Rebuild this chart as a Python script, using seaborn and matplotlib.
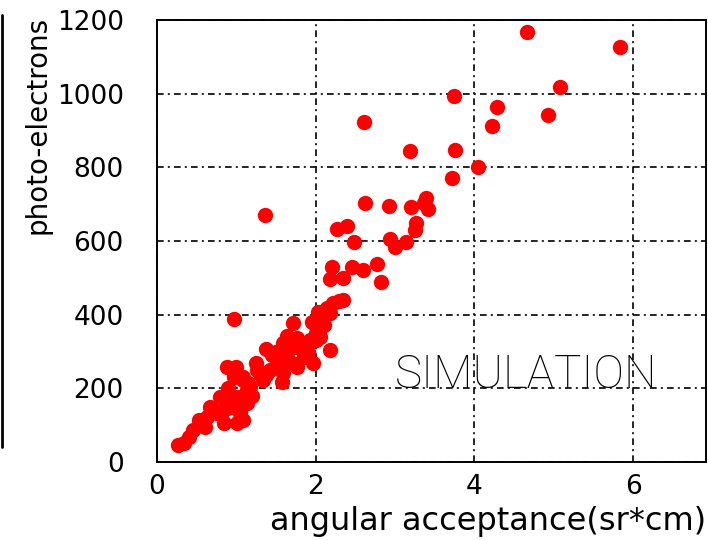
import matplotlib
matplotlib.use("Agg")
import matplotlib.pyplot as plt
from matplotlib.lines import Line2D
from matplotlib.ticker import MultipleLocator
import seaborn as sns
import pandas as pd

# angular acceptance (sr*cm) vs. number of photo-electrons
acceptance = [
    4.66, 5.83, 5.08, 3.74, 4.29, 4.93, 4.22, 2.61, 3.19, 3.76, 4.04, 3.72, 1.36,
    3.39, 3.42, 3.36, 3.20, 2.93, 2.62, 3.27, 3.25, 2.27, 2.40, 2.48, 2.94, 3.00,
    3.14, 2.20, 2.46, 2.60, 2.77, 2.18, 2.35, 2.82, 2.35, 2.30, 2.22, 2.14, 2.03,
    2.18, 2.10,
    0.97, 1.72, 2.10, 2.06, 2.18, 1.93, 1.76, 1.59, 1.38, 1.64, 1.85, 1.97, 1.51,
    1.43, 1.26, 1.59, 1.76, 1.09, 1.34, 1.00, 0.88, 0.97, 1.09, 1.13, 1.01, 0.80,
    0.67, 0.92, 1.05, 1.13, 1.01, 1.09, 0.84, 0.53, 0.63, 0.46, 0.40, 0.27, 0.34,
    0.76, 0.84, 1.05, 1.64, 1.57, 1.17, 1.76, 2.01, 1.90, 1.70, 1.45, 1.20, 0.90,
    0.60, 1.30, 1.55, 1.80, 2.00, 1.50, 1.95, 2.05, 1.15, 0.70, 0.95, 1.25, 1.37,
]
photo_electrons = [
    1167, 1126, 1019, 994, 965, 942, 913, 922, 843, 847, 802, 770, 671,
    718, 688, 702, 693, 695, 704, 648, 630, 632, 641, 596, 605, 583,
    596, 530, 530, 521, 538, 496, 499, 489, 440, 436, 431, 417, 408,
    404, 410,
    388, 377, 372, 340, 304, 331, 336, 322, 306, 295, 286, 268, 277,
    250, 250, 241, 259, 232, 223, 259, 259, 232, 223, 196, 177, 177,
    150, 150, 141, 159, 105, 114, 105, 114, 123, 87, 69, 46, 51,
    132, 141, 132, 341, 218, 204, 313, 349, 300, 270, 290, 180, 200,
    95, 240, 260, 320, 330, 300, 380, 360, 215, 140, 170, 270, 236,
]

x_ticks = [0, 2, 4, 6]
y_ticks = [0, 200, 400, 600, 800, 1000, 1200]

df = pd.DataFrame({"acceptance": acceptance, "pe": photo_electrons})

sns.set_style("white")
plt.rcParams["font.family"] = ["DejaVu Sans"]
plt.rcParams["text.color"] = "black"
plt.rcParams["axes.labelcolor"] = "black"

fig = plt.figure(figsize=(7.08, 5.40), dpi=100)
ax = fig.add_axes([157 / 708, 78 / 540, 549 / 708, 442 / 540])

sns.scatterplot(data=df, x="acceptance", y="pe", ax=ax, color="#ff0000",
                s=122, marker="o", linewidth=0, zorder=3)

ax.set_xlim(0, 6.92)
ax.set_ylim(0, 1200)
ax.set_xticks(x_ticks)
ax.set_yticks(y_ticks)
ax.set_xticklabels([str(v) for v in x_ticks])
ax.set_yticklabels([str(v) for v in y_ticks])
ax.xaxis.set_minor_locator(MultipleLocator(0.5))
ax.yaxis.set_minor_locator(MultipleLocator(50))

ax.tick_params(axis="both", which="both", direction="in", colors="black",
               labelsize=19, width=1.3)
ax.tick_params(axis="x", which="both", length=9, pad=9)
ax.tick_params(axis="y", which="both", length=10, pad=24)

ax.grid(True, which="major", color="black", linewidth=1.2,
        linestyle=(0, (4, 2.5, 1.2, 2.5)))
ax.set_axisbelow(True)
for sp in ax.spines.values():
    sp.set_visible(True)
    sp.set_color("black")
    sp.set_linewidth(1.4)

ax.set_xlabel("angular acceptance(sr*cm)", fontsize=23, ha="right", x=1.0,
              labelpad=4)
ax.set_ylabel("photo-electrons", fontsize=20, ha="right", y=1.01, labelpad=4)

ax.text(3.0, 200, "SIMULATION", fontsize=33, fontfamily="Roboto",
        fontweight="light", color="black", ha="left", va="baseline", zorder=4)

fig.add_artist(Line2D([1.5 / 708, 1.5 / 708], [525 / 540, 93 / 540],
                      color="black", linewidth=2, transform=fig.transFigure))

fig.savefig("out.png", dpi=100)
